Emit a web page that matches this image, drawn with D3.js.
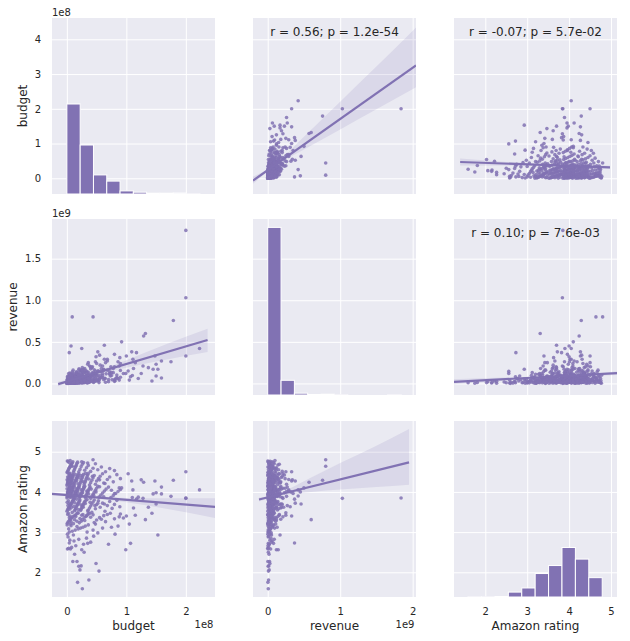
<!DOCTYPE html>
<html><head><meta charset="utf-8">
<script src="https://cdn.jsdelivr.net/npm/d3@7"></script>
<style>
body{margin:0;background:#fff}
text{font-family:"DejaVu Sans",sans-serif;fill:#262626}
</style>
</head><body>
<svg id="c" width="630" height="641"></svg>
<script>
// ---------------- DATA ----------------
const variables = ["budget", "revenue", "Amazon rating"];
// each film: [budget in $M, revenue in $M, Amazon rating]
const films = [
[200,1840,3.85],[200,1030,3.84],[200,330,4.5],[223,420,4.05],[179,757,4.29],[175,260,3.89],[9,800,4.64],[44,800,4.8],
[129,570,4.24],[132,600,3.31],[92,500,4.1],[63,460,3.7],[7,450,4.0],[4,370,2.73],[25,420,3.9],[159,270,4.12],
[148,330,4.27],[143,30,3.47],[159,65,3.95],[153,170,2.93],[137,190,3.62],[125,120,4.3],[111,290,4.05],[117,370,3.82],
[109,380,4.27],[100,330,3.4],[99,120,2.56],[107,80,2.72],[103,150,4.45],[110,95,3.86],[120,60,3.87],[128,210,3.84],
[115,250,3.42],[105,40,3.2],[112,180,3.6],[145,170,3.95],[150,230,3.98],[150,90,3.7],
[26,8,1.59],[18,3,1.75],[37,12,1.81],[22,20,2.06],[20,6,2.15],[24,15,2.16],[10,2,2.27],[17,25,2.27],[49,30,2.22],[54,10,2.03],
[6,40,2.58],[1,5,2.58],[13,18,2.45],[29,9,2.5],
[3,1,2.6],[8,14,2.62],[15,4,2.66],[28,22,2.7],[35,9,2.72],[40,55,2.75],[12,60,2.78],[5,30,2.8],[20,90,2.82],[33,45,2.85],
[70,20,2.7],[81,33,2.95],[2,8,2.88],[45,12,2.9],[25,145,2.56],
[1,2,2.95],[4,11,3.0],[9,26,3.02],[14,7,3.05],[19,40,3.08],[23,17,3.1],[27,65,3.12],[31,30,3.15],[36,80,3.18],[44,22,3.05],
[52,48,2.98],[60,95,3.1],[75,130,3.12],[86,60,3.15],[0.5,3,3.18],[6,19,3.2],[11,52,2.93],[17,10,3.14],[34,5,3.0],[48,110,3.2],
[3,35,3.08],[7,70,3.16],
[0.8,4,3.22],[2,15,3.25],[3.5,40,3.28],[5,9,3.3],[6.5,25,3.33],[8,60,3.35],[10,18,3.38],[12,33,3.4],[14,5,3.42],[16,75,3.45],
[18,22,3.48],[21,50,3.23],[24,12,3.27],[26,95,3.31],[29,38,3.36],[32,140,3.39],[35,65,3.43],[38,20,3.46],[42,85,3.49],[46,30,3.24],
[50,120,3.3],[55,70,3.36],[62,45,3.41],[68,160,3.44],[73,90,3.47],[80,25,3.33],[88,210,3.38],[1.5,1,3.44],[4,7,3.36],[7,30,3.26],
[9,45,3.49],[11,2,3.21],[13,90,3.31],[15,27,3.39],[19,15,3.47],[22,68,3.34],[27,8,3.44],[30,55,3.29],[33,16,3.41],[40,100,3.37],
[44,48,3.43],[58,180,3.32],[65,15,3.26],[90,75,3.45],[95,120,3.35],[2.5,22,3.47],[5.5,50,3.4],[17,110,3.27],[25,160,3.42],[36,250,3.48],
[0.3,2,3.52],[1,10,3.55],[2,28,3.58],[3,5,3.6],[4,48,3.62],[5,16,3.65],[6,72,3.68],[7,8,3.7],[8,35,3.72],[9,20,3.75],
[10,90,3.78],[11,42,3.8],[12,12,3.82],[13,58,3.53],[14,26,3.56],[15,100,3.59],[16,6,3.63],[17,38,3.66],[18,70,3.69],[19,18,3.71],
[20,130,3.74],[21,45,3.77],[22,9,3.8],[23,80,3.54],[24,30,3.57],[25,115,3.61],[26,52,3.64],[27,14,3.67],[28,170,3.7],[29,62,3.73],
[30,25,3.76],[32,95,3.79],[34,40,3.81],[36,135,3.55],[38,70,3.6],[40,20,3.65],[42,190,3.7],[44,105,3.75],[46,55,3.8],[48,150,3.58],
[50,85,3.68],[53,30,3.78],[56,220,3.62],[60,120,3.72],[64,60,3.52],[68,270,3.66],[72,140,3.76],[76,45,3.59],[80,200,3.69],[84,100,3.79],
[89,310,3.63],[0.6,22,3.74],[1.8,55,3.66],[2.7,14,3.78],[3.6,33,3.71],[4.5,85,3.57],[5.8,3,3.69],[7.5,120,3.61],[9.5,46,3.77],[11.5,28,3.64],
[13.5,11,3.73],[16.5,64,3.82],[19.5,36,3.56],[23.5,160,3.68],[27.5,75,3.62],[31,19,3.71],[35,50,3.53],[39,88,3.74],[47,125,3.66],[52,380,3.72],
[0.2,1,3.85],[0.5,6,3.88],[0.9,18,3.9],[1.2,35,3.93],[1.6,4,3.95],[2,12,3.98],[2.4,60,4.0],[2.8,25,4.02],[3.2,9,4.05],[3.6,80,4.08],
[4,15,4.1],[4.5,42,4.12],[5,3,4.14],[5.5,28,3.86],[6,95,3.89],[6.5,11,3.92],[7,50,3.96],[7.5,20,3.99],[8,70,4.03],[8.5,5,4.06],
[9,38,4.09],[9.5,110,4.11],[10,14,4.13],[11,56,3.84],[12,24,3.87],[13,85,3.91],[14,8,3.94],[15,44,3.97],[16,130,4.01],[17,19,4.04],
[18,66,4.07],[19,31,4.1],[20,98,4.13],[21,7,3.85],[22,52,3.88],[23,150,3.92],[24,27,3.95],[25,75,3.98],[26,13,4.02],[27,118,4.05],
[28,40,4.08],[29,62,4.11],[30,180,4.14],[31,22,3.86],[32,88,3.9],[33,45,3.93],[34,140,3.97],[35,16,4.0],[36,105,4.03],[37,58,4.06],
[38,210,4.09],[39,33,4.12],[40,76,3.84],[42,125,3.89],[44,29,3.94],[46,165,3.99],[48,64,4.04],[50,240,4.09],[52,95,4.14],[54,37,3.87],
[57,145,3.92],[60,72,3.97],[63,290,4.02],[66,115,4.07],[70,48,4.12],[74,200,3.86],[78,130,3.91],[82,60,3.96],[86,260,4.01],[90,155,4.06],
[0.4,45,4.08],[1,9,3.97],[1.4,75,4.01],[2.2,21,3.89],[3,120,4.04],[3.8,2,3.93],[4.8,33,4.07],[5.8,66,3.95],[6.8,14,4.1],[7.8,92,3.88],
[8.8,41,4.03],[9.8,17,3.92],[10.5,160,4.06],[11.5,53,3.99],[12.5,6,4.12],[13.5,78,3.87],[14.5,30,4.01],[15.5,115,3.94],[16.5,47,4.08],[17.5,12,3.9],
[18.5,90,4.03],[19.5,36,3.96],[20.5,175,4.1],[22.5,68,3.91],[24.5,10,4.05],[26.5,102,3.98],[28.5,50,4.12],[30.5,135,3.89],[33.5,26,4.02],[36.5,82,3.95],
[41,190,4.07],[45,110,3.92],[49,320,4.0],[55,55,4.13],[62,170,3.88],[75,95,4.04],[80,350,3.96],[88,40,4.1],
[0.3,3,4.16],[0.7,20,4.19],[1.1,48,4.22],[1.5,8,4.25],[2,30,4.28],[2.5,70,4.31],[3,13,4.34],[3.5,42,4.37],[4,95,4.4],[4.5,5,4.43],
[5,25,4.46],[5.5,60,4.17],[6,16,4.2],[6.5,105,4.23],[7,36,4.26],[7.5,9,4.29],[8,78,4.32],[8.5,27,4.35],[9,50,4.38],[9.5,140,4.41],
[10,19,4.44],[11,65,4.18],[12,32,4.21],[13,7,4.24],[14,88,4.27],[15,44,4.3],[16,15,4.33],[17,120,4.36],[18,56,4.39],[19,23,4.42],
[20,165,4.45],[21,74,4.16],[22,38,4.2],[23,11,4.24],[24,100,4.28],[25,47,4.32],[26,190,4.36],[27,60,4.4],[28,28,4.44],[29,135,4.18],
[30,82,4.22],[31,18,4.26],[32,155,4.3],[33,70,4.34],[34,40,4.38],[35,230,4.42],[36,110,4.46],[38,54,4.17],[40,175,4.23],[42,30,4.29],
[44,130,4.35],[46,85,4.41],[48,260,4.19],[50,45,4.27],[53,150,4.33],[56,98,4.39],[60,210,4.45],[64,62,4.21],[68,290,4.31],[72,120,4.37],
[78,180,4.25],[84,70,4.43],[90,240,4.33],[0.5,12,4.3],[1.3,85,4.37],[2.2,4,4.21],[3.2,58,4.45],[4.2,22,4.26],[5.2,125,4.34],[6.2,40,4.19],
[7.2,2,4.4],[8.2,66,4.23],[9.2,18,4.31],[10.5,97,4.38],[12.5,50,4.17],[14.5,8,4.43],[16.5,72,4.28],[18.5,30,4.2],[20.5,112,4.35],[23.5,24,4.41],
[27.5,145,4.25],[31.5,60,4.46],[37,19,4.32],[43,200,4.39],[55,340,4.3],[62,160,4.22],
[0.4,5,4.48],[1,22,4.5],[1.8,50,4.52],[2.6,10,4.55],[3.4,75,4.58],[4.2,30,4.6],[5,3,4.62],[6,44,4.65],[7,15,4.68],[8,90,4.7],
[9,26,4.72],[10,60,4.75],[11,8,4.49],[12,115,4.53],[13,36,4.57],[14,18,4.61],[15,70,4.64],[16,140,4.67],[17,40,4.71],[18,12,4.74],
[20,95,4.5],[22,55,4.56],[24,25,4.63],[26,160,4.69],[28,80,4.73],[30,35,4.54],[33,120,4.6],[36,60,4.66],[40,200,4.51],[44,90,4.59],
[48,30,4.7],[52,150,4.55],[58,70,4.62],[65,250,4.5],[72,110,4.58],[80,45,4.53],[0.8,2,4.77],[2,33,4.76],[3.5,14,4.73],[5.5,100,4.78],
[7.5,52,4.65],[25,8,4.75],[35,16,4.72]
];

// histogram bins (edges in axis units: budget 1e8, revenue 1e9, rating) and counts
const budgetEdges = [0, 0.2235, 0.447, 0.6705, 0.894, 1.1175, 1.341, 1.5645, 1.788, 2.0115, 2.235];
const budgetCounts = [349, 190, 74, 50, 12, 7, 3, 3, 4, 1];
const revenueEdges = [0, 0.184, 0.368, 0.552, 0.736, 0.92, 1.104, 1.288, 1.472, 1.656, 1.84];
const revenueCounts = [650, 57, 7, 2, 3, 1, 0, 0, 0, 1];
const ratingEdges = [1.59, 1.91, 2.23, 2.55, 2.87, 3.19, 3.51, 3.83, 4.15, 4.47, 4.79];
const ratingCounts = [1, 1, 2, 19, 35, 91, 122, 192, 147, 75];

// regression lines [x, y] and confidence bands [x, lo, hi] (axis units)
const lineRevenueBudget = [[-0.203, -0.066], [2.046, 3.25]];
const bandRevenueBudget = [[-0.203,-0.16,0.045],[0.07,0.312,0.352],[0.5,0.828,1.198],[1.0,1.406,2.206],[1.5,1.985,3.215],[2.046,2.62,4.34]];
const lineRatingBudget = [[1.40, 0.469], [4.976, 0.317]];
const bandRatingBudget = [[1.40,0.37,0.57],[2.5,0.37,0.47],[3.9,0.34,0.39],[4.976,0.27,0.36]];
const lineBudgetRevenue = [[-0.146, -0.008], [2.365, 0.522]];
const bandBudgetRevenue = [[-0.146,-0.035,0.02],[0.3,0.074,0.098],[1.0,0.19,0.28],[1.7,0.29,0.48],[2.365,0.378,0.658]];
const lineRatingRevenue = [[1.253, 0.019], [5.143, 0.123]];
const bandRatingRevenue = [[1.253,-0.01,0.05],[2.5,0.035,0.07],[3.9,0.076,0.098],[5.143,0.1,0.145]];
const lineBudgetRating = [[-0.25, 3.95], [2.49, 3.627]];
const bandBudgetRating = [[-0.25,3.91,3.99],[0.3,3.86,3.91],[1.0,3.74,3.85],[1.6,3.6,3.84],[2.49,3.35,3.84]];
const lineRevenueRating = [[-0.12, 3.81], [1.95, 4.736]];
const bandRevenueRating = [[-0.12,3.76,3.86],[0.07,3.87,3.92],[0.6,4.0,4.36],[1.0,4.06,4.72],[1.5,4.12,5.15],[1.95,4.18,5.567]];

const corrLabels = ["r = 0.56; p = 1.2e-54", "r = -0.07; p = 5.7e-02", "r = 0.10; p = 7.6e-03"];

const xTickValues = [[0, 1, 2], [0, 1, 2], [2, 3, 4, 5]];
const xTickLabels = [["0", "1", "2"], ["0", "1", "2"], ["2", "3", "4", "5"]];
const yTickValues = [[0, 1, 2, 3, 4], [0, 0.5, 1, 1.5], [2, 3, 4, 5]];
const yTickLabels = [["0", "1", "2", "3", "4"], ["0.0", "0.5", "1.0", "1.5"], ["2", "3", "4", "5"]];
const offsetLabels = ["1e8", "1e9", null];

// ---------------- LAYOUT ----------------
const svg = d3.select("#c");
const colX = [52, 253, 454], colW = 163;
const rowY = [18, 219, 421], rowH = 176;
const purple = "#8172B3", panelBg = "#EAEAF2";

const toUnit = [v => v / 100, v => v / 1000, v => v];
const xDom = [[-0.25, 2.49], [-0.203, 2.046], [1.253, 5.143]];
const yDom = [[-0.452, 4.613], [-0.139, 1.977], [1.386, 5.764]];
const xS = xDom.map((d, j) => d3.scaleLinear().domain(d).range([colX[j], colX[j] + colW]));
const yS = yDom.map((d, i) => d3.scaleLinear().domain(d).range([rowY[i] + rowH, rowY[i]]));

const hist = [[budgetEdges, budgetCounts], [revenueEdges, revenueCounts], [ratingEdges, ratingCounts]];
const histMax = d3.max([budgetCounts, revenueCounts, ratingCounts].flat());

const regs = {
  "0,1": [lineRevenueBudget, bandRevenueBudget],
  "0,2": [lineRatingBudget, bandRatingBudget],
  "1,0": [lineBudgetRevenue, bandBudgetRevenue],
  "1,2": [lineRatingRevenue, bandRatingRevenue],
  "2,0": [lineBudgetRating, bandBudgetRating],
  "2,1": [lineRevenueRating, bandRevenueRating]
};
const corrPanels = {"0,1": 0, "0,2": 1, "1,2": 2};

const defs = svg.append("defs");

for (let i = 0; i < 3; i++) {
  for (let j = 0; j < 3; j++) {
    const x = xS[j], y = yS[i];
    const id = `clip${i}${j}`;
    defs.append("clipPath").attr("id", id).append("rect")
      .attr("x", colX[j]).attr("y", rowY[i]).attr("width", colW).attr("height", rowH);
    const g = svg.append("g");
    g.append("rect").attr("x", colX[j]).attr("y", rowY[i]).attr("width", colW).attr("height", rowH)
      .attr("fill", panelBg);
    const gx = g.append("g").attr("transform", `translate(0,${rowY[i] + rowH})`)
      .call(d3.axisBottom(x).tickValues(xTickValues[j]).tickSize(-rowH).tickFormat(""));
    const gy = g.append("g").attr("transform", `translate(${colX[j]},0)`)
      .call(d3.axisLeft(y).tickValues(yTickValues[i]).tickSize(-colW).tickFormat(""));
    [gx, gy].forEach(a => {
      a.select(".domain").remove();
      a.selectAll("line").attr("stroke", "#fff").attr("stroke-width", 1);
    });
    const body = g.append("g").attr("clip-path", `url(#${id})`);
    if (i === j) {
      const [edges, counts] = hist[i];
      const hy = d3.scaleLinear().domain([0, histMax * 1.05]).range([rowY[i] + rowH, rowY[i]]);
      body.selectAll("rect.bar").data(counts).join("rect").attr("class", "bar")
        .attr("x", (c, k) => x(edges[k]))
        .attr("width", (c, k) => x(edges[k + 1]) - x(edges[k]))
        .attr("y", c => hy(c))
        .attr("height", c => hy(0) - hy(c))
        .attr("fill", purple).attr("stroke", "#fff").attr("stroke-width", 1);
    } else {
      body.selectAll("circle").data(films).join("circle")
        .attr("cx", d => x(toUnit[j](d[j])))
        .attr("cy", d => y(toUnit[i](d[i])))
        .attr("r", 1.8)
        .attr("fill", purple).attr("fill-opacity", 0.85);
      const [ln, band] = regs[`${i},${j}`];
      body.append("path").datum(band)
        .attr("d", d3.area().x(d => x(d[0])).y0(d => y(d[1])).y1(d => y(d[2])).curve(d3.curveMonotoneX))
        .attr("fill", purple).attr("fill-opacity", 0.15);
      body.append("path").datum(ln)
        .attr("d", d3.line().x(d => x(d[0])).y(d => y(d[1])))
        .attr("stroke", purple).attr("stroke-width", 2.2).attr("fill", "none");
      const ck = corrPanels[`${i},${j}`];
      if (ck !== undefined) {
        g.append("text").attr("x", colX[j] + colW / 2).attr("y", rowY[i] + 17.5)
          .attr("text-anchor", "middle").attr("font-size", 12).text(corrLabels[ck]);
      }
    }
  }
}

// y tick labels + y axis labels (left column)
for (let i = 0; i < 3; i++) {
  const ga = svg.append("g").attr("transform", `translate(${colX[0]},0)`)
    .call(d3.axisLeft(yS[i]).tickValues(yTickValues[i]).tickSize(0).tickPadding(11)
      .tickFormat((v, k) => yTickLabels[i][k]));
  ga.select(".domain").remove();
  ga.selectAll("text").attr("font-size", 10).attr("font-family", "DejaVu Sans").attr("fill", "#262626");
  const bb = ga.node().getBBox();
  const bx = colX[0] + bb.x - 8;
  svg.append("text").attr("transform", `translate(${bx},${rowY[i] + rowH / 2}) rotate(-90)`)
    .attr("text-anchor", "middle").attr("font-size", 12).text(variables[i]);
  if (offsetLabels[i]) {
    svg.append("text").attr("x", colX[0]).attr("y", rowY[i] - 2.5)
      .attr("font-size", 10).text(offsetLabels[i]);
  }
}

// x tick labels + x axis labels (bottom row)
const bottom = rowY[2] + rowH;
for (let j = 0; j < 3; j++) {
  const ga = svg.append("g").attr("transform", `translate(0,${bottom})`)
    .call(d3.axisBottom(xS[j]).tickValues(xTickValues[j]).tickSize(0).tickPadding(11)
      .tickFormat((v, k) => xTickLabels[j][k]));
  ga.select(".domain").remove();
  ga.selectAll("text").attr("font-size", 10).attr("font-family", "DejaVu Sans").attr("fill", "#262626");
  svg.append("text").attr("x", colX[j] + colW / 2).attr("y", bottom + 33)
    .attr("text-anchor", "middle").attr("font-size", 12).text(variables[j]);
  if (offsetLabels[j]) {
    svg.append("text").attr("x", colX[j] + colW - 1.5).attr("y", bottom + 30.5)
      .attr("text-anchor", "end").attr("font-size", 10).text(offsetLabels[j]);
  }
}
</script>
</body></html>
